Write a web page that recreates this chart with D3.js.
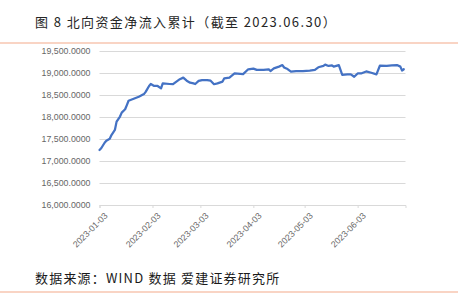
<!DOCTYPE html>
<html lang="zh">
<head>
<meta charset="utf-8">
<script src="https://d3js.org/d3.v7.min.js"></script>
<style>
  body { margin: 0; background: #fff; }
  svg { display: block; }
</style>
</head>
<body>
<script>
// cumulative northbound net inflow
var dates = ["2023-01-03","2023-01-04","2023-01-06","2023-01-07","2023-01-09","2023-01-10","2023-01-12","2023-01-13","2023-01-15","2023-01-16",
  "2023-01-18","2023-01-19","2023-01-20","2023-01-23","2023-01-26","2023-01-29","2023-01-30","2023-02-01","2023-02-02","2023-02-04",
  "2023-02-06","2023-02-08","2023-02-09","2023-02-13","2023-02-15","2023-02-17","2023-02-19","2023-02-21","2023-02-23","2023-02-25",
  "2023-02-27","2023-02-28","2023-03-02","2023-03-04","2023-03-07","2023-03-09","2023-03-11","2023-03-13","2023-03-16","2023-03-17",
  "2023-03-20","2023-03-23","2023-03-28","2023-03-31","2023-04-03","2023-04-05","2023-04-09","2023-04-12","2023-04-13","2023-04-15",
  "2023-04-18","2023-04-20","2023-04-21","2023-04-23","2023-04-25","2023-04-28","2023-05-02","2023-05-06","2023-05-09","2023-05-11",
  "2023-05-14","2023-05-15","2023-05-17","2023-05-19","2023-05-20","2023-05-23","2023-05-25","2023-05-28","2023-05-30","2023-06-01",
  "2023-06-03","2023-06-05","2023-06-08","2023-06-11","2023-06-14","2023-06-16","2023-06-20","2023-06-23","2023-06-26","2023-06-28",
  "2023-06-29","2023-06-30"];
var values = [17250,17290,17415,17460,17505,17590,17705,17895,18010,18100,
  18175,18270,18370,18415,18460,18520,18570,18705,18750,18705,
  18705,18650,18765,18750,18745,18805,18860,18895,18825,18780,
  18765,18750,18820,18840,18840,18825,18745,18765,18805,18880,
  18895,18990,18975,19085,19100,19070,19070,19085,19045,19105,
  19145,19180,19125,19090,19030,19045,19040,19055,19070,19130,
  19160,19190,19160,19175,19145,19180,18960,18970,18970,18915,
  18990,18990,19035,19005,18970,19165,19160,19175,19180,19145,
  19055,19085];
var tickDates = ["2023-01-03","2023-02-03","2023-03-03","2023-04-03","2023-05-03","2023-06-03"];
var yTicks = [16000,16500,17000,17500,18000,18500,19000,19500];

var title = "图 8 北向资金净流入累计（截至 2023.06.30）";
var source = "数据来源：WIND 数据 爱建证券研究所";

var width = 458, height = 296;
var parse = d3.timeParse("%Y-%m-%d");

var svg = d3.select("body").append("svg")
    .attr("width", width)
    .attr("height", height);

// title + orange rules
svg.append("text")
    .attr("x", 35).attr("y", 27)
    .attr("font-family", "'Noto Sans CJK SC', sans-serif")
    .attr("font-size", 13)
    .attr("letter-spacing", 1.4)
    .attr("fill", "#262626")
    .text(title);

svg.append("line")
    .attr("x1", 0).attr("x2", width)
    .attr("y1", 43).attr("y2", 43)
    .attr("stroke", "#f4a98a").attr("stroke-width", 1.2);

svg.append("text")
    .attr("x", 35).attr("y", 283)
    .attr("font-family", "'Noto Sans CJK SC', sans-serif")
    .attr("font-size", 13)
    .attr("letter-spacing", 1.2)
    .attr("fill", "#1a1a1a")
    .text(source);

svg.append("line")
    .attr("x1", 0).attr("x2", width)
    .attr("y1", 292).attr("y2", 292)
    .attr("stroke", "#f4a98a").attr("stroke-width", 1.2);

var x = d3.scaleTime()
    .domain([parse("2023-01-03"), parse("2023-07-01")])
    .range([99.5, 405.5]);

var y = d3.scaleLinear()
    .domain([16000, 19500])
    .range([205, 51]);

// y axis: labels + gridlines
var yAxis = svg.append("g")
    .attr("transform", "translate(99.5,0)")
    .call(d3.axisLeft(y)
        .tickValues(yTicks)
        .tickSize(-(405.5 - 99.5))
        .tickPadding(9)
        .tickFormat(d3.format(",.4f")));
yAxis.select(".domain").remove();
yAxis.selectAll(".tick line")
    .attr("stroke", "#d9d9d9");
yAxis.selectAll(".tick text")
    .attr("fill", "#666")
    .attr("font-family", "'Liberation Sans', Arial, sans-serif")
    .attr("font-size", 8.8);

// x axis
var xAxis = svg.append("g")
    .attr("transform", "translate(0,205)")
    .call(d3.axisBottom(x)
        .tickValues(tickDates.map(parse))
        .tickSize(3)
        .tickFormat(d3.timeFormat("%Y-%m-%d")));
xAxis.select(".domain").attr("stroke", "#d9d9d9");
xAxis.selectAll(".tick line").attr("stroke", "#d9d9d9");
xAxis.selectAll(".tick text")
    .attr("fill", "#666")
    .attr("font-family", "'Liberation Sans', Arial, sans-serif")
    .attr("font-size", 8.8)
    .attr("text-anchor", "end")
    .attr("dy", null)
    .attr("transform", "translate(4,7) rotate(-45)");

// the series
var data = dates.map(function(d, i) { return { date: parse(d), value: values[i] }; });

var line = d3.line()
    .x(function(d) { return x(d.date); })
    .y(function(d) { return y(d.value); });

svg.append("path")
    .datum(data)
    .attr("d", line)
    .attr("fill", "none")
    .attr("stroke", "#4472c4")
    .attr("stroke-width", 2.25)
    .attr("stroke-linejoin", "round")
    .attr("stroke-linecap", "round");
</script>
</body>
</html>
